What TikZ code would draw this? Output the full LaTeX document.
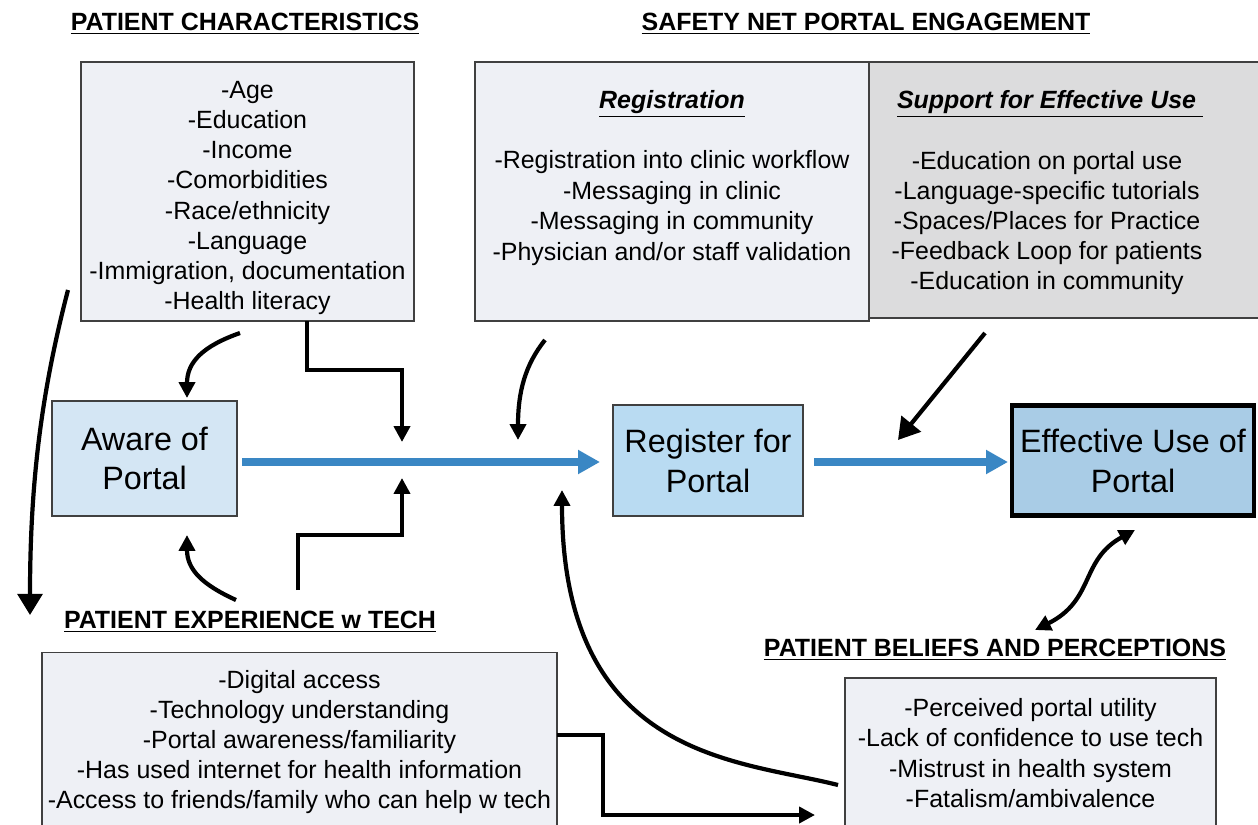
\documentclass[tikz,border=0pt]{standalone}
\usepackage{fontspec}
\setmainfont{Liberation Sans}
\usetikzlibrary{arrows.meta}
\definecolor{cBox}{HTML}{EEF0F5}
\definecolor{cSupport}{HTML}{DCDCDD}
\definecolor{cAware}{HTML}{D4E6F4}
\definecolor{cRegister}{HTML}{B9DBF2}
\definecolor{cEffective}{HTML}{A9CCE6}
\definecolor{cFlow}{HTML}{3A87C4}

\begin{document}
\begin{tikzpicture}[
  x=0.02cm, y=-0.02cm,
  listbox/.style={draw=black!75, line width=0.8pt, fill=cBox, inner sep=0pt},
  items/.style={align=center, font=\fontsize{14.2}{17.2}\selectfont},
  stagebox/.style={draw=black!75, line width=0.8pt, align=center, inner sep=0pt,
                   font=\fontsize{18.4}{22.7}\selectfont},
  head/.style={font=\fontsize{14.2}{17}\selectfont\bfseries},
  flow/.style={-{Triangle[length=12.5pt, width=13pt]}, draw=cFlow, line width=4.6pt},
  link/.style={-{Triangle[length=9pt, width=9pt]}, line width=2.4pt},
  biglink/.style={-{Triangle[length=12pt, width=14pt]}, line width=2.4pt},
]
\useasboundingbox (0,0) rectangle (1258,825);

% ====================== headings ======================================
\node[head] (hChar) at (245,24) {\underline{PATIENT CHARACTERISTICS}};
\node[head] (hNet) at (866,24) {\underline{SAFETY NET PORTAL ENGAGEMENT}};
\node[head] (hExp) at (250,622) {\underline{PATIENT EXPERIENCE w TECH}};
\node[head] (hBel) at (995,650) {\underline{PATIENT BELIEFS AND PERCEPTIONS}};

% ====================== factor boxes ==================================
\node[listbox, minimum width=6.66cm, minimum height=5.18cm] (chars) at (247.5,191.5) {};
\node[items] (charsItems) at (247.5,198)
  {-Age\\-Education\\-Income\\-Comorbidities\\-Race/ethnicity\\-Language\\
   -Immigration, documentation\\-Health literacy};

\node[listbox, fill=cSupport, minimum width=7.92cm, minimum height=5.12cm] (support) at (1067,190) {};
\node[listbox, minimum width=7.88cm, minimum height=5.18cm] (regist) at (672,191.5) {};
\node[head, font=\fontsize{14.2}{17}\selectfont\bfseries\itshape] (hRegist) at (672,104)
  {\underline{Registration}};
\node[items, font=\fontsize{14.2}{17.4}\selectfont] (registItems) at (672,208)
  {-Registration into clinic workflow\\-Messaging in clinic\\-Messaging in community\\
   -Physician and/or staff validation};
\node[head, font=\fontsize{14.2}{17}\selectfont\bfseries\itshape] (hSupport) at (1050,104)
  {\underline{Support for Effective Use\ }};
\node[items] (supportItems) at (1047,223)
  {-Education on portal use\\-Language-specific tutorials\\-Spaces/Places for Practice\\
   -Feedback Loop for patients\\-Education in community};

\node[listbox, items, minimum width=10.3cm, minimum height=3.58cm] (exper) at (299.5,742)
  {-Digital access\\-Technology understanding\\-Portal awareness/familiarity\\
   -Has used internet for health information\\-Access to friends/family who can help w tech};

\node[listbox, items, minimum width=7.42cm, minimum height=3.0cm] (belief) at (1030.5,753)
  {-Perceived portal utility\\-Lack of confidence to use tech\\-Mistrust in health system\\
   -Fatalism/ambivalence};

% ====================== stages ========================================
\node[stagebox, fill=cAware, minimum width=3.7cm, minimum height=2.3cm] (aware) at (144.5,458.5)
  {Aware of\\Portal};
\node[stagebox, fill=cRegister, minimum width=3.8cm, minimum height=2.22cm] (register) at (708,460.5)
  {Register for\\Portal};
\node[stagebox, fill=cEffective, draw=black, line width=2.3pt,
      minimum width=4.84cm, minimum height=2.2cm] (effective) at (1133,460.5)
  {Effective Use of\\Portal};

% ====================== stage flow ====================================
\coordinate (flowA) at (242,462);
\coordinate (flowB) at (600,462);
\coordinate (flowC) at (814,462);
\coordinate (flowD) at (1008,462);
\draw[flow] (flowA) -- (flowB);
\draw[flow] (flowC) -- (flowD);

% ====================== influences ====================================
\coordinate (charsOut) at (240,333);
\coordinate (charsElbow) at (307,321);
\coordinate (firstTop) at (402,442);
\coordinate (firstBot) at (402,478);
\coordinate (experElbow) at (298,590);
\coordinate (experOut) at (236,600);
\coordinate (awareTop) at (187,398);
\coordinate (awareBot) at (187,535);
\coordinate (leftOut) at (68,290);
\coordinate (leftIn) at (30,615);
\coordinate (registOut) at (545,340);
\coordinate (secondTop) at (518,440);
\coordinate (beliefOut) at (838,785);
\coordinate (secondBot) at (562,490);
\coordinate (supportOut) at (985,333);
\coordinate (thirdTop) at (898,440);
\coordinate (effectiveBot) at (1135,530);
\coordinate (beliefTop) at (1035,630);
\coordinate (experOut2) at (557,735);
\coordinate (beliefIn) at (815,815);

\draw[link] (charsOut) .. controls (203,346) and (187,362) .. (awareTop);
\draw[link] (charsElbow) -- (307,370) -- (402,370) -- (firstTop);
\draw[link] (experElbow) -- (298,535) -- (402,535) -- (firstBot);
\draw[link] (experOut) .. controls (203,585) and (187,570) .. (awareBot);
\draw[biglink] (leftOut) .. controls (42,390) and (30,480) .. (leftIn);
\draw[link] (registOut) .. controls (525,365) and (518,392) .. (secondTop);
\draw[link] (beliefOut) .. controls (740,760) and (562,760) .. (secondBot);
\draw[biglink] (supportOut) -- (thirdTop);
\draw[link, {Triangle[length=9pt, width=9pt]}-{Triangle[length=9pt, width=9pt]}]
  (effectiveBot) .. controls (1080,560) and (1095,600) .. (beliefTop);
\draw[link] (experOut2) -- (603,735) -- (603,815) -- (beliefIn);

\end{tikzpicture}
\end{document}
